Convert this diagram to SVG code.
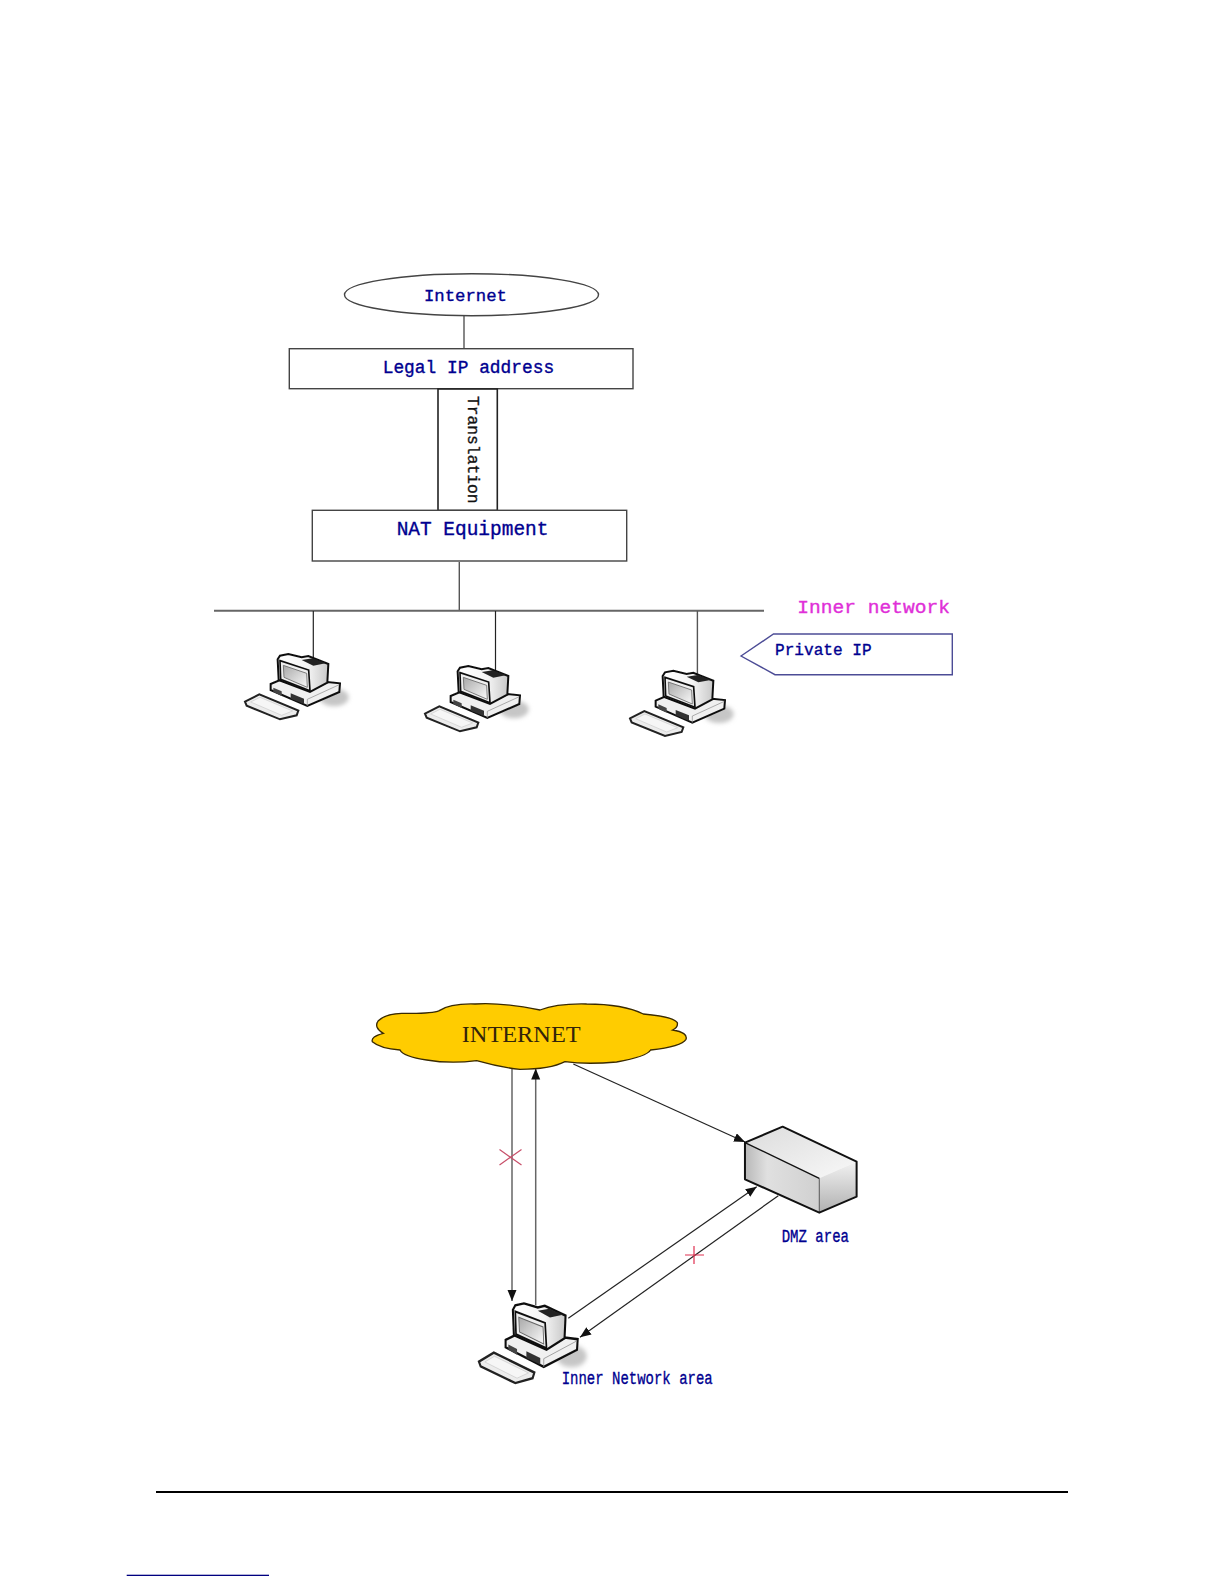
<svg xmlns="http://www.w3.org/2000/svg" xmlns:xlink="http://www.w3.org/1999/xlink" width="1224" height="1584" viewBox="0 0 1224 1584">
<style>
.box{fill:#fff;stroke:#444;stroke-width:1.4}
.line{fill:none;stroke:#555;stroke-width:1.4}
.thin{fill:none;stroke:#222;stroke-width:1.2}
.t{font-family:"Liberation Mono","DejaVu Sans Mono",monospace;fill:#000090;stroke:#000090;stroke-width:0.35}
.m{fill:#e030d8;stroke:#e030d8}
.cross{fill:none;stroke-width:1.2}
</style>
<defs>
<marker id="arr" markerUnits="userSpaceOnUse" markerWidth="13" markerHeight="10" refX="11" refY="4.5" orient="auto"><path d="M0,0L11,4.5L0,9Z" fill="#111"/></marker>
<linearGradient id="scr" x1="0" y1="0" x2="1" y2="1"><stop offset="0" stop-color="#a8a8a8"/><stop offset="1" stop-color="#fafafa"/></linearGradient>
<linearGradient id="mon" x1="0" y1="0" x2="1" y2="0"><stop offset="0" stop-color="#fff"/><stop offset="0.6" stop-color="#f4f4f4"/><stop offset="1" stop-color="#c8c8c8"/></linearGradient>
<linearGradient id="dtop" x1="0" y1="0" x2="1" y2="1"><stop offset="0" stop-color="#dcdcdc"/><stop offset="1" stop-color="#f8f8f8"/></linearGradient>
<linearGradient id="dfront" x1="0" y1="0" x2="1" y2="0"><stop offset="0" stop-color="#b8b8b8"/><stop offset="0.3" stop-color="#e0e0e0"/><stop offset="1" stop-color="#d0d0d0"/></linearGradient>
<linearGradient id="dright" x1="0" y1="0" x2="0" y2="1"><stop offset="0" stop-color="#f2f2f2"/><stop offset="1" stop-color="#b0b0b0"/></linearGradient>
<filter id="soft" x="-20%" y="-20%" width="140%" height="140%"><feGaussianBlur stdDeviation="1.6"/></filter>
<filter id="shad" x="-40%" y="-40%" width="180%" height="180%"><feGaussianBlur stdDeviation="6"/></filter>
<g id="pc">
<ellipse cx="312" cy="172" rx="44" ry="27" fill="#c6c6c6" filter="url(#shad)"/>
<g filter="url(#soft)">
<path d="M45,185L88,163L205,212L200,226L150,238L50,197Z" fill="#ececec" stroke="#222" stroke-width="6"/>
<path d="M62,186L90,172L188,213L155,226Z" fill="#f6f6f6" stroke="#ccc" stroke-width="2"/>
<path d="M122,132L150,120L240,152L292,126L330,130L328,156L232,198L122,150Z" fill="#f0f0f0" stroke="#111" stroke-width="6"/>
<path d="M130,143L155,154L155,168L130,156Z" fill="#444"/>
<path d="M182,160L222,176L222,192L182,176Z" fill="#333"/>
<path d="M232,198L232,178L328,134" fill="none" stroke="#888" stroke-width="2"/>
<path d="M143,58L150,47L175,42L215,52L235,48L295,72L292,128L240,156L146,120Z" fill="url(#mon)" stroke="#111" stroke-width="6"/>
<path d="M150,62L236,90L240,152L152,118Z" fill="#eee" stroke="#111" stroke-width="5"/>
<path d="M160,76L230,100L232,142L162,112Z" fill="url(#scr)" stroke="#666" stroke-width="2.5"/>
<path d="M215,60L248,55L287,70L250,77Z" fill="#222"/>
</g>
</g>
</defs>
<rect width="1224" height="1584" fill="#fff"/>

<g id="connectors">
<path class="line" d="M464,316V348.5"/>
<path class="line" d="M459.3,562V611"/>
<path d="M214,610.7H764" fill="none" stroke="#666" stroke-width="2"/>
<path class="thin" d="M313.3,611V659"/>
<path class="thin" d="M495.5,611V671"/>
<path class="line" d="M697.4,611V678"/>
<path d="M512,1068V1301" fill="none" stroke="#666" stroke-width="1.5" marker-end="url(#arr)"/>
<path d="M535.7,1305V1068.5" fill="none" stroke="#666" stroke-width="1.5" marker-end="url(#arr)"/>
<path class="thin" d="M573.3,1064L745,1142" marker-end="url(#arr)"/>
<path class="thin" d="M568.3,1318.3L756.7,1186.7" marker-end="url(#arr)"/>
<path class="thin" d="M778.3,1195.7L580,1337.3" marker-end="url(#arr)"/>
<path class="cross" stroke="#c8506a" d="M499.5,1149.5L521.5,1165M499.5,1165L521.5,1149.5"/>
<path class="cross" stroke="#e03050" d="M685,1255H704M694,1246V1264"/>
</g>

<g id="internet-top">
<ellipse cx="471.5" cy="294.7" rx="127" ry="21" class="box"/>
<text class="t" x="424" y="300.5" font-size="17" textLength="83" lengthAdjust="spacingAndGlyphs">Internet</text>
</g>
<g id="legal-ip">
<rect x="289.3" y="348.7" width="343.7" height="40" class="box"/>
<text class="t" x="382.7" y="373.3" font-size="17.5" textLength="171.5" lengthAdjust="spacingAndGlyphs">Legal IP address</text>
</g>
<g id="translation">
<rect x="438" y="389" width="59.3" height="121.5" fill="#fff" stroke="#222" stroke-width="1.6"/>
<text transform="translate(468,396) rotate(90)" font-family="Liberation Mono,monospace" fill="#111" stroke="#111" stroke-width="0.35" font-size="17" textLength="107.5" lengthAdjust="spacingAndGlyphs">Translation</text>
</g>
<g id="nat">
<rect x="312.3" y="510.3" width="314.4" height="50.7" class="box"/>
<text class="t" x="396.7" y="534.7" font-size="19.5" textLength="151.7" lengthAdjust="spacingAndGlyphs">NAT Equipment</text>
</g>
<g id="inner-network-label">
<text class="t m" x="797.3" y="612.5" font-size="18.5" textLength="152.7" lengthAdjust="spacingAndGlyphs">Inner network</text>
</g>
<g id="private-ip">
<path d="M741,656L773.5,634H952.3V674.7H775Z" fill="#fff" stroke="#4c4c96" stroke-width="1.4"/>
<text class="t" x="775" y="655" font-size="16.5" textLength="96.7" lengthAdjust="spacingAndGlyphs">Private IP</text>
</g>
<g id="pc1"><use xlink:href="#pc" href="#pc" transform="translate(230,640) scale(0.3333)"/></g>
<g id="pc2"><use xlink:href="#pc" href="#pc" transform="translate(410,652) scale(0.3333)"/></g>
<g id="pc3"><use xlink:href="#pc" href="#pc" transform="translate(615,656.7) scale(0.3333)"/></g>

<g id="internet-cloud">
<path transform="translate(360,990) scale(0.3333)" d="M55,92Q75,72 125,70Q215,72 238,62Q270,40 345,42Q420,36 540,60Q590,40 680,42Q790,42 850,72Q940,80 952,98Q955,112 938,120Q985,128 978,148Q965,170 872,180Q860,200 770,216Q680,224 615,215Q570,238 480,238Q420,232 350,212Q270,222 200,210Q130,200 120,180Q60,175 37,155Q32,140 70,130Q40,112 55,92Z" fill="#fc0" stroke="#3a2a00" stroke-width="4"/>
<text x="461.7" y="1041.5" font-family="Liberation Serif,serif" font-size="23" fill="#33240a" textLength="119" lengthAdjust="spacingAndGlyphs">INTERNET</text>
</g>
<g id="dmz">
<g transform="translate(360,990) scale(0.3333)" stroke-linejoin="round">
<path d="M1155,458L1268,410L1490,515L1378,565Z" fill="url(#dtop)"/>
<path d="M1155,458L1378,565V668L1155,568Z" fill="url(#dfront)"/>
<path d="M1378,565L1490,515V620L1378,668Z" fill="url(#dright)"/>
<path d="M1378,565V668" fill="none" stroke="#555" stroke-width="3"/>
<path d="M1155,458L1378,565" fill="none" stroke="#111" stroke-width="4"/>
<path d="M1155,458L1268,410L1490,515V620L1378,668L1155,568Z" fill="none" stroke="#111" stroke-width="6"/>
</g>
<text class="t" x="781.7" y="1241.7" font-size="19" textLength="67.3" lengthAdjust="spacingAndGlyphs">DMZ area</text>
</g>
<g id="inner-network-area">
<use xlink:href="#pc" href="#pc" transform="translate(463.3,1286.3) scale(0.3467,0.4067)"/>
<text class="t" x="561.7" y="1384.3" font-size="19" textLength="151" lengthAdjust="spacingAndGlyphs">Inner Network area</text>
</g>
<g id="footer">
<rect x="156" y="1491" width="912" height="2" fill="#000"/>
<rect x="126.7" y="1574.7" width="142.3" height="1.3" fill="#000080"/>
</g>
</svg>
